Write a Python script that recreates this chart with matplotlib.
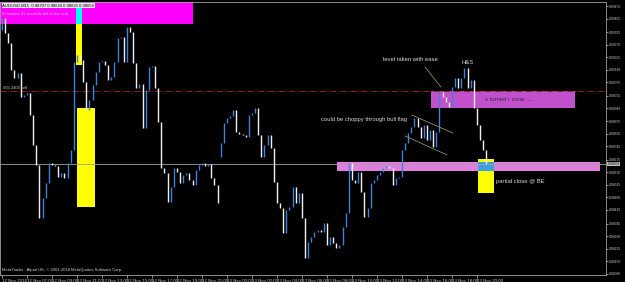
import matplotlib.pyplot as plt
from matplotlib.patches import Rectangle
from matplotlib.transforms import blended_transform_factory

plt.rcParams.update({
    'font.family': ['Liberation Sans', 'DejaVu Sans'],
    'font.size': 4,
})

# M15 bars (price)
first_open = 0.99346
closes = [
    0.99408, 0.99330, 0.99279, 0.99139, 0.99098, 0.99124, 0.98999, 0.99010,
    0.99020, 0.98906, 0.98751, 0.98648, 0.98374, 0.98477, 0.98555, 0.98658,
    0.98648, 0.98645, 0.98586, 0.98607, 0.98581, 0.98658, 0.98726, 0.99180,
    0.99217, 0.99191, 0.99077, 0.98932, 0.98984, 0.99062, 0.99129, 0.99180,
    0.99186, 0.99165, 0.99087, 0.99103, 0.99180, 0.99305, 0.99310, 0.99180,
    0.99361, 0.99336, 0.99175, 0.99046, 0.99067, 0.98839, 0.99036, 0.99155,
    0.99160, 0.99046, 0.98870, 0.98632, 0.98607, 0.98457, 0.98534, 0.98632,
    0.98612, 0.98555, 0.98596, 0.98607, 0.98570, 0.98545, 0.98622, 0.98648,
    0.98658, 0.98643, 0.98653, 0.98581, 0.98545, 0.98451, 0.98762, 0.98865,
    0.98891, 0.98901, 0.98932, 0.98819, 0.98808, 0.98803, 0.98793, 0.98906,
    0.98917, 0.98943, 0.98803, 0.98689, 0.98751, 0.98803, 0.98736, 0.98560,
    0.98451, 0.98426, 0.98296, 0.98415, 0.98431, 0.98534, 0.98451, 0.98503,
    0.98374, 0.98167, 0.98250, 0.98276, 0.98302, 0.98312, 0.98302, 0.98348,
    0.98234, 0.98276, 0.98245, 0.98219, 0.98234, 0.98327, 0.98400, 0.98658,
    0.98570, 0.98555, 0.98612, 0.98508, 0.98379, 0.98426, 0.98555, 0.98570,
    0.98596, 0.98612, 0.98632, 0.98643, 0.98632, 0.98545, 0.98581, 0.98586,
    0.98726, 0.98762, 0.98813, 0.98844, 0.98891, 0.98844, 0.98788, 0.98855,
    0.98777, 0.98829, 0.98741, 0.98819, 0.99025, 0.98999, 0.98974, 0.98948,
    0.99051, 0.99098, 0.99046, 0.99098, 0.99149, 0.99046, 0.99087, 0.98943,
    0.98855, 0.98777, 0.98726, 0.98654,
]
gap_opens = {70: 0.98689}   # history gap before 13 Nov 00:00

price_ticks = [0.99470, 0.99405, 0.99335, 0.99270, 0.99205, 0.99140, 0.99075,
               0.99005, 0.98940, 0.98875, 0.98810, 0.98745, 0.98675, 0.98610,
               0.98545, 0.98480, 0.98415, 0.98345, 0.98280, 0.98215, 0.98150,
               0.98085]
time_labels = ['12 Nov 2018', '12 Nov 07:00', '12 Nov 09:00', '12 Nov 11:00',
               '12 Nov 13:00', '12 Nov 15:00', '12 Nov 17:00', '12 Nov 19:00',
               '12 Nov 21:00', '13 Nov 00:00', '13 Nov 02:00', '13 Nov 04:00',
               '13 Nov 06:00', '13 Nov 08:00', '13 Nov 10:00', '13 Nov 12:00',
               '13 Nov 14:00', '13 Nov 16:00', '13 Nov 18:00', '13 Nov 20:00']
bid = 0.98654
sell_level = 0.99031

opens = [first_open] + closes[:-1]
for k, v in gap_opens.items():
    opens[k] = v

fig = plt.figure(figsize=(6.25, 2.82), dpi=100, facecolor='black')
ax = fig.add_axes([0.0, 0.025, 0.970, 0.968])
ax.set_facecolor('black')
ax.set_xlim(-0.64, 193.4)
ax.set_ylim(0.98079, 0.99491)

# zones / rectangles
def rect(x0, x1, y0, y1, c, z=1):
    ax.add_patch(Rectangle((x0, y0), x1 - x0, y1 - y0, facecolor=c,
                           edgecolor='none', zorder=z))

rect(-0.6, 61.1, 0.99377, 0.9952, '#ff00ff')
rect(23.7, 25.6, 0.99165, 0.99377, '#ffff00')
rect(23.7, 25.6, 0.99377, 0.99475, '#00ffff', 1.1)
rect(24.0, 29.8, 0.98431, 0.98943, '#ffff00')
rect(137.3, 183.4, 0.98943, 0.99031, '#c050cc')
rect(107.2, 191.4, 0.98617, 0.98663, '#e07ee0')
rect(152.3, 157.4, 0.98503, 0.98679, '#ffff00', 1.2)
rect(152.3, 157.4, 0.98617, 0.98663, '#3aa0e0', 1.3)

# level lines
ax.axhline(sell_level, color='#8b2020', lw=0.7, ls='-.', zorder=2)
ax.axhline(bid, color='#a0a0a0', lw=0.6, zorder=2)

# bars
xs = list(range(len(closes)))
cols = ['#3f82d8' if c > o else '#f0f0f0' for o, c in zip(opens, closes)]
ax.vlines(xs, opens, closes, colors=cols, lw=1.0, zorder=3)

# trend lines
lc = '#a8a870'
ax.plot([135.4, 140.5], [0.99155, 0.99051], color=lc, lw=0.5, zorder=4)
ax.plot([131.2, 144.3], [0.98906, 0.98813], color=lc, lw=0.5, zorder=4)
ax.plot([129.0, 142.4], [0.98798, 0.98700], color=lc, lw=0.5, zorder=4)

tc = '#d8d8d8'
ax.text(121.9, 0.99191, 'level taken with ease', color=tc, fontsize=4.2, va='center')
ax.text(147.2, 0.99180, 'H&S', color=tc, fontsize=4.2, va='center')
ax.text(154.6, 0.98984, 's turned r zone ....', color='#4a2050', fontsize=4.2, va='center')
ax.text(102.1, 0.98881, 'could be choppy through bull flag', color=tc, fontsize=4.2, va='center')
ax.text(158.1, 0.98560, 'partial close @ BE', color=tc, fontsize=4.2, va='center')
ax.text(0.3, sell_level + 0.00003, '#55 2400 sell', color='#d0d0d0', fontsize=3, va='bottom')

ax.text(0.004, 0.993, 'AUDUSD,M15  0.98707 0.98624 0.98635 0.98654', transform=ax.transAxes,
        color='black', fontsize=3, va='top',
        bbox=dict(facecolor='#e8e8e8', edgecolor='none', pad=0.3))
ax.text(0.004, 0.962, '6 minutes 21 seconds left to bar end', transform=ax.transAxes,
        color='#f0c0ff', fontsize=3, va='top')
ax.text(0.004, 0.012, 'MetaTrader - Alpari UK, \u00a9 2001-2018 MetaQuotes Software Corp.',
        transform=ax.transAxes, color='#d0d0d0', fontsize=3, va='bottom')

# axes
for s in ax.spines.values():
    s.set_color('#a0a0a0')
    s.set_linewidth(0.6)
ax.yaxis.tick_right()
ax.set_yticks(price_ticks)
ax.set_yticklabels(['%.5f' % v for v in price_ticks])
ax.set_xticks(range(0, 8 * len(time_labels), 8))
ax.set_xticklabels(time_labels, ha='left')
ax.tick_params(colors='#c8c8c8', labelsize=3.2, length=2, width=0.5, pad=1)
ax.tick_params(axis='y', labelsize=2.4, length=1.2, pad=0.5)

tr = blended_transform_factory(ax.transAxes, ax.transData)
ax.text(1.002, bid, '%.5f' % bid, transform=tr, color='black', fontsize=2.4,
        va='center', ha='left', bbox=dict(facecolor='#c0c0c0', edgecolor='none', pad=0.2))

fig.savefig('out.png', dpi=100, facecolor='black')
